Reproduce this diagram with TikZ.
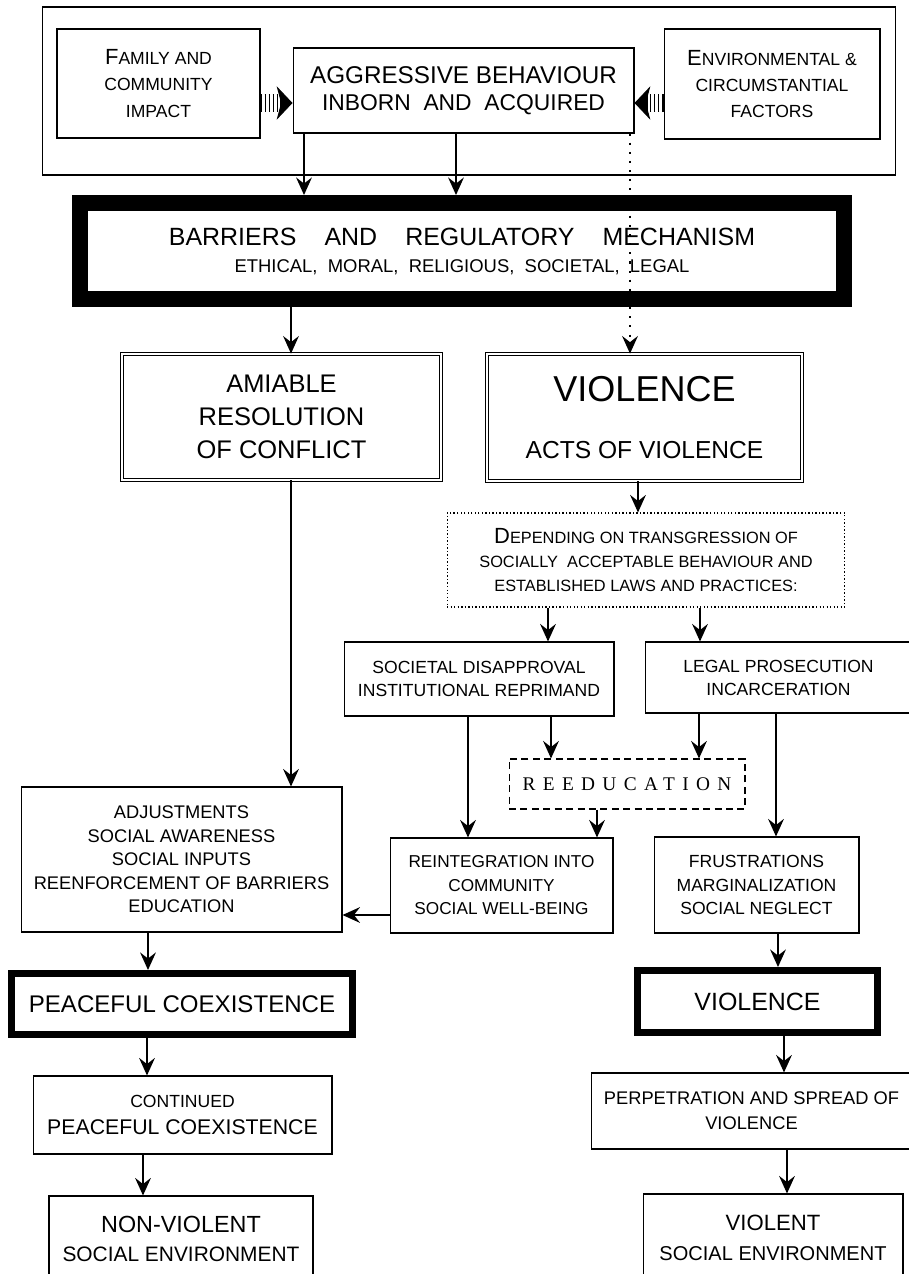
\documentclass[tikz,border=0pt]{standalone}
\usepackage{fontspec}
\setmainfont{Liberation Sans}
\newfontfamily\reedfont{Liberation Serif}[LetterSpace=38]
\usetikzlibrary{arrows.meta}
\newcommand\fsz[2]{\fontsize{#1}{#2}\selectfont}
\newcommand\initcap[1]{{\fsz{12.5}{15}#1}}

\begin{document}
\begin{tikzpicture}[x=0.02cm, y=-0.02cm,
        box/.style={draw, line width=0.6pt, inner sep=0pt, align=center},
        heavybox/.style={box, line width=#1},
        twinbox/.style={box, double, double distance=1.6pt, line width=0.5pt},
        arr/.style={line width=0.9pt, -{Stealth[length=10pt, width=9pt, inset=3.5pt]}},
        dotarr/.style={arr, line width=1.2pt, dash pattern=on 1.2pt off 4pt},
        stripes/.style={line width=10pt, dash pattern=on 1pt off 1.3pt},
        blockhead/.style={line width=8pt, -{Stealth[length=9pt, width=19pt, inset=2.5pt, line width=0.5pt]}}]
            \useasboundingbox (0,0) rectangle (909,1274);
            \node [box, minimum width=17.08cm, minimum height=3.36cm] (frame) at (469,91) {};
            \node [box, font=\fsz{10}{15}, minimum width=4.06cm, minimum height=2.18cm] (fam) at (158.5,83.5)
                  {\initcap{F}AMILY AND\\COMMUNITY\\IMPACT};
            \node [box, font=\fsz{13.8}{15.4}, minimum width=6.82cm, minimum height=1.7cm] (agg) at (463.5,90.5)
                  {AGGRESSIVE BEHAVIOUR\\{\fsz{13}{15}INBORN~~AND~~ACQUIRED}};
            \node [box, font=\fsz{10}{15}, minimum width=4.32cm, minimum height=2.2cm] (env) at (772,84)
                  {\initcap{E}NVIRONMENTAL \&\\CIRCUMSTANTIAL\\FACTORS};
            \node [heavybox=9.1pt, font=\fsz{14.2}{15.4}, minimum width=15.28cm, minimum height=1.92cm] (barr) at (462,251)
                  {BARRIERS\hspace{16pt}AND\hspace{16pt}REGULATORY\hspace{16pt}MECHANISM\\
                   {\fsz{10.5}{13}ETHICAL,~~MORAL,~~RELIGIOUS,~~SOCIETAL,~~LEGAL}};
            \node [twinbox, font=\fsz{14.5}{18.8}, minimum width=6.38cm, minimum height=2.52cm] (amia) at (281.5,417)
                  {AMIABLE\\RESOLUTION\\OF CONFLICT};
            \node [twinbox, font=\fsz{20.5}{32}, minimum width=6.3cm, minimum height=2.54cm] (viol) at (644.5,417.5)
                  {VIOLENCE\\{\fsz{14}{17}ACTS OF VIOLENCE}};
            \node [box, dash pattern=on 0.8pt off 1.2pt, font=\fsz{9.3}{13.7}, minimum width=7.96cm, minimum height=1.88cm] (dep) at (646,560)
                  {\initcap{D}EPENDING ON TRANSGRESSION OF\\SOCIALLY~~ACCEPTABLE BEHAVIOUR AND\\ESTABLISHED LAWS AND PRACTICES:};
            \node [box, font=\fsz{10}{13.1}, minimum width=5.4cm, minimum height=1.48cm] (soc) at (479,679)
                  {SOCIETAL DISAPPROVAL\\INSTITUTIONAL REPRIMAND};
            \node [box, font=\fsz{10}{13.1}, minimum width=5.34cm, minimum height=1.42cm] (legal) at (778.5,677.5)
                  {LEGAL PROSECUTION\\INCARCERATION};
            \node [box, dash pattern=on 4pt off 2.5pt, font=\reedfont\fsz{11}{13}, minimum width=4.72cm, minimum height=1cm] (reed) at (627,784)
                  {REEDUCATION};
            \node [box, font=\fsz{10.4}{13.4}, minimum width=6.42cm, minimum height=2.9cm] (adj) at (181.5,859.5)
                  {ADJUSTMENTS\\SOCIAL AWARENESS\\SOCIAL INPUTS\\REENFORCEMENT OF BARRIERS\\EDUCATION};
            \node [box, font=\fsz{9.8}{13.4}, minimum width=4.46cm, minimum height=1.9cm] (reint) at (501.5,885.5)
                  {REINTEGRATION INTO\\COMMUNITY\\SOCIAL WELL-BEING};
            \node [box, font=\fsz{10}{13.4}, minimum width=4.1cm, minimum height=1.92cm] (frus) at (756.5,885)
                  {FRUSTRATIONS\\MARGINALIZATION\\SOCIAL NEGLECT};
            \node [heavybox=4pt, font=\fsz{13.7}{16}, minimum width=6.82cm, minimum height=1.22cm] (peace) at (182,1004)
                  {PEACEFUL COEXISTENCE};
            \node [heavybox=4pt, font=\fsz{14.2}{16}, minimum width=4.8cm, minimum height=1.24cm] (viol2) at (757.5,1001.5)
                  {VIOLENCE};
            \node [box, font=\fsz{10}{15.4}, minimum width=5.98cm, minimum height=1.56cm] (cont) at (182.5,1115)
                  {CONTINUED\\{\fsz{12.1}{14}PEACEFUL COEXISTENCE}};
            \node [box, font=\fsz{10.4}{14.2}, minimum width=6.42cm, minimum height=1.52cm] (perp) at (751.5,1111)
                  {PERPETRATION AND SPREAD OF\\VIOLENCE};
            \node [box, font=\fsz{13.3}{16.2}, minimum width=5.28cm, minimum height=1.72cm] (nonv) at (181,1239)
                  {NON-VIOLENT\\{\fsz{11.9}{14}SOCIAL ENVIRONMENT}};
            \node [box, font=\fsz{12.6}{17}, minimum width=5.2cm, minimum height=1.76cm] (violent) at (773,1238)
                  {VIOLENT\\{\fsz{11.4}{14}SOCIAL ENVIRONMENT}};
            \coordinate (famhd) at (280,103);
            \coordinate (envhd) at (647,103);
            \draw [stripes] (fam.east |- famhd) -- (famhd);
            \draw [blockhead] (famhd) -- (agg.west |- famhd);
            \draw [stripes] (env.west |- envhd) -- (envhd);
            \draw [blockhead] (envhd) -- (agg.east |- envhd);
            \foreach \x/\a/\b in {304/agg/barr, 456/agg/barr, 291/barr/amia, 291/amia/adj, 638/viol/dep,
                    548/dep/soc, 700/dep/legal, 468/soc/reint, 551/soc/reed, 699/legal/reed, 776/legal/frus,
                    597/reed/reint, 148/adj/peace, 147/peace/cont, 143/cont/nonv, 778/frus/viol2,
                    784/viol2/perp, 787/perp/violent}
                    \draw [arr] (\x,0 |- \a.south) -- (\x,0 |- \b.north);
            \draw [dotarr] (630,0 |- agg.south) -- (630,0 |- viol.north);
            \draw [arr] (reint.west |- 0,915) -- (adj.east |- 0,915);
      \end{tikzpicture}
\end{document}
